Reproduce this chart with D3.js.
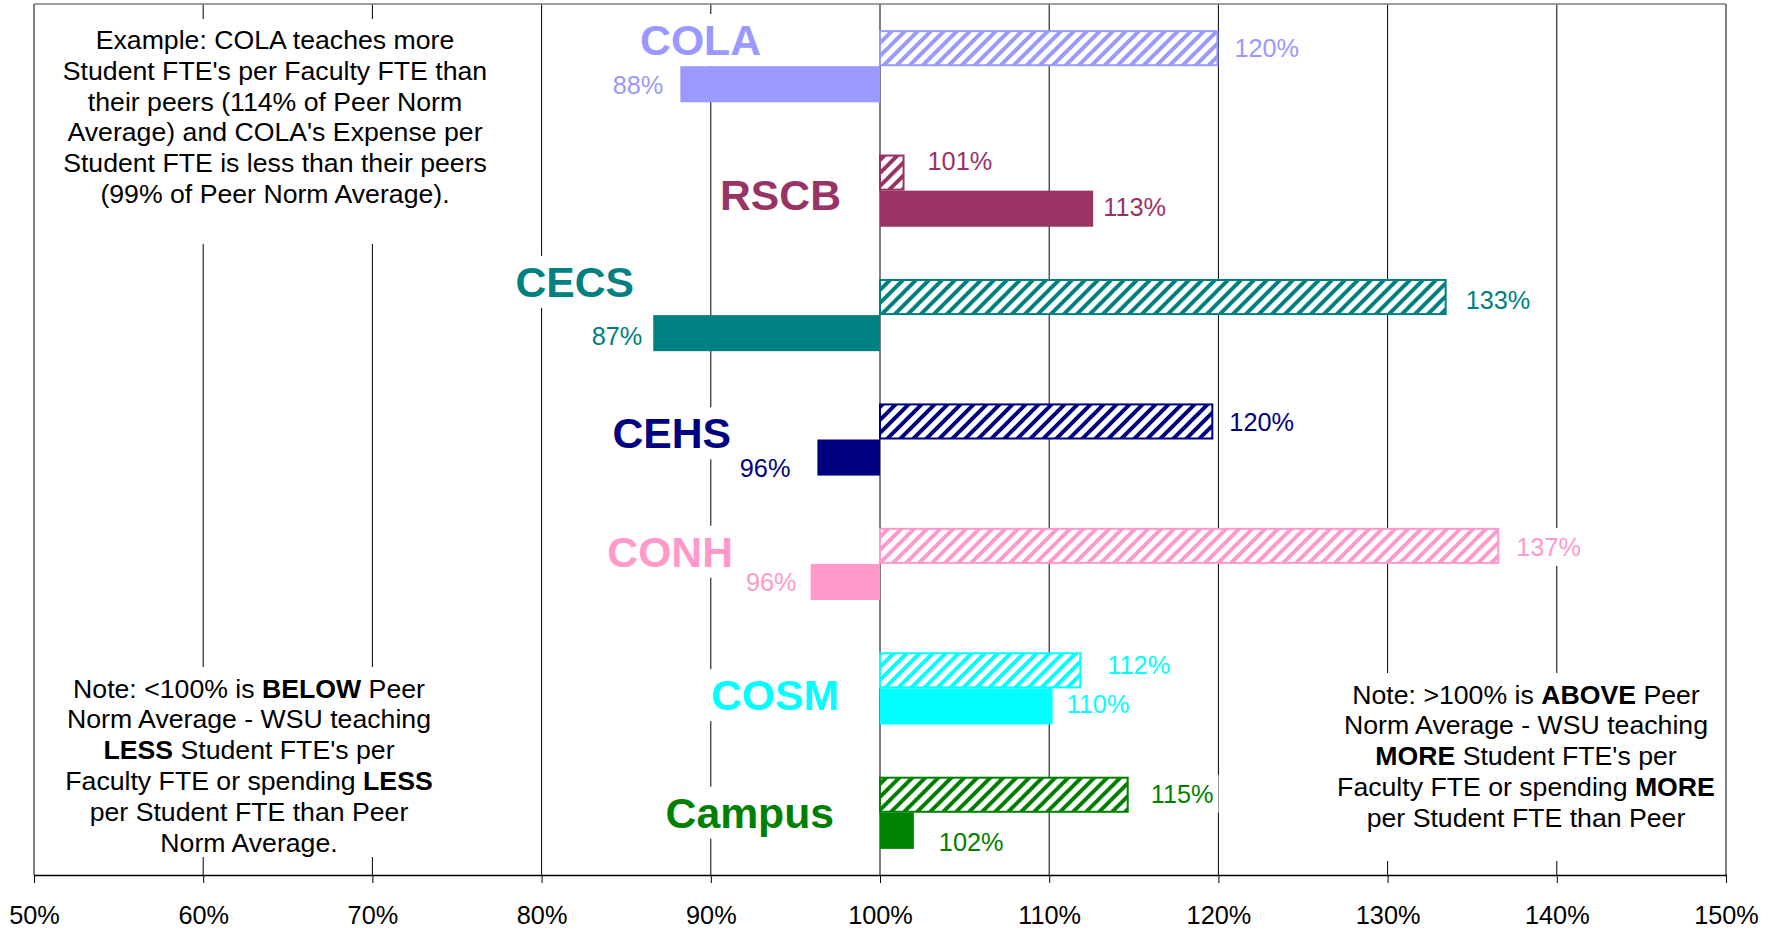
<!DOCTYPE html>
<html>
<head>
<meta charset="utf-8">
<script src="https://cdn.jsdelivr.net/npm/d3@7"></script>
<style>
  body { margin: 0; background: #fff; }
  text { font-family: "Liberation Sans", Arial, sans-serif; }
</style>
</head>
<body>
<script>
// data: % of peer norm average
const categories = ["COLA", "RSCB", "CECS", "CEHS", "CONH", "COSM", "Campus"];
const colors = ["#9999FF", "#993366", "#008080", "#000080", "#FF99CC", "#00FFFF", "#008000"];
const studentsPerFaculty = [120.0, 101.45, 133.49, 119.7, 136.6, 111.9, 114.7]; // hatched
const expensePerStudent = [88.2, 112.6, 86.6, 96.3, 95.9, 110.2, 102.0];       // solid
const tickValues = [50, 60, 70, 80, 90, 100, 110, 120, 130, 140, 150];

// hand placed text boxes (px nudges)
const catLabelPos = [[-119, 51], [-39, 82], [-246, 44], [-149, 71], [-147, 65], [-41, 84], [-46, 77]];
const hatchLabelPos = [[16, 0], [23, -12], [19, 3], [16, 1], [17, 1], [26, -5], [22, -1]];
const solidLabelPos = [[-17, 1], [10, -2], [-11, 3], [-27, 10], [-14, 0], [14, -2], [25, 11]];

const exampleNote = [
  [["Example: COLA teaches more"]],
  [["Student FTE's per Faculty FTE than"]],
  [["their peers (114% of Peer Norm"]],
  [["Average) and COLA's Expense per"]],
  [["Student FTE is less than their peers"]],
  [["(99% of Peer Norm Average)."]]
];
const belowNote = [
  [["Note: <100% is "], ["BELOW", 1], [" Peer"]],
  [["Norm Average - WSU teaching"]],
  [["LESS", 1], [" Student FTE's per"]],
  [["Faculty FTE or spending "], ["LESS", 1]],
  [["per Student FTE than Peer"]],
  [["Norm Average."]]
];
const aboveNote = [
  [["Note: >100% is "], ["ABOVE", 1], [" Peer"]],
  [["Norm Average - WSU teaching"]],
  [["MORE", 1], [" Student FTE's per"]],
  [["Faculty FTE or spending "], ["MORE", 1]],
  [["per Student FTE than Peer"]]
];

let width = 1781, height = 930;
let plotLeft = 34, plotRight = 1726, plotTop = 4, plotBottom = 875;

let svg = d3.select("body").append("svg")
  .attr("width", width).attr("height", height);

let x = d3.scaleLinear().domain([50, 150]).range([plotLeft, plotRight]);
let y = d3.scaleBand().domain(categories).range([plotTop, plotBottom])
  .paddingInner(0.42).paddingOuter(0.21);
let ySub = d3.scaleBand().domain(["hatch", "solid"]).range([0, y.bandwidth()]);
let step = y.step();
let bandTop = d => y(d) - y.paddingOuter() * step;

// hatch patterns
let defs = svg.append("defs");
categories.forEach((c, i) => {
  let p = defs.append("pattern").attr("id", "hatch" + i)
    .attr("patternUnits", "userSpaceOnUse").attr("width", 13).attr("height", 13);
  p.append("rect").attr("width", 13).attr("height", 13).attr("fill", "#fff");
  p.append("path").attr("d", "M-4,4 L4,-4 M0,13 L13,0 M9,17 L17,9")
    .attr("stroke", colors[i]).attr("stroke-width", 4);
});

// gridlines
svg.append("g").selectAll("line").data(tickValues).join("line")
  .attr("x1", d => x(d)).attr("x2", d => x(d))
  .attr("y1", plotTop).attr("y2", plotBottom)
  .attr("stroke", "#000").attr("stroke-width", 1);
svg.append("line").attr("x1", plotLeft).attr("x2", plotRight)
  .attr("y1", plotTop).attr("y2", plotTop)
  .attr("stroke", "#808080").attr("stroke-width", 1.5);

let boxes = svg.append("g");
let bars = svg.append("g");
let labels = svg.append("g");

// note boxes
function note(lines, cx, y0, box) {
  boxes.append("rect").attr("x", box[0]).attr("y", box[1])
    .attr("width", box[2] - box[0]).attr("height", box[3] - box[1]).attr("fill", "#fff");
  let t = labels.append("text").attr("text-anchor", "middle")
    .attr("font-size", 26.67).attr("fill", "#000");
  lines.forEach((segs, j) => {
    segs.forEach((s, k) => {
      let ts = t.append("tspan").text(s[0]).attr("font-weight", s[1] ? "bold" : "normal");
      if (k == 0) ts.attr("x", cx).attr("y", y0 + j * 30.8);
    });
  });
}
note(exampleNote, 275, 49, [52, 19, 500, 244]);
note(belowNote, 249, 697.5, [52, 667, 450, 857]);
note(aboveNote, 1526, 703.5, [1330, 673, 1722, 861]);

// bars
bars.selectAll(".hatch").data(categories).join("rect")
  .attr("x", x(100))
  .attr("y", d => y(d) + ySub("hatch") + 1)
  .attr("width", (d, i) => x(studentsPerFaculty[i]) - x(100) - 1)
  .attr("height", ySub.bandwidth() - 2)
  .attr("fill", (d, i) => "url(#hatch" + i + ")")
  .attr("stroke", (d, i) => colors[i]).attr("stroke-width", 2);

bars.selectAll(".solid").data(categories).join("rect")
  .attr("x", (d, i) => Math.min(x(100), x(expensePerStudent[i])))
  .attr("y", d => y(d) + ySub("solid"))
  .attr("width", (d, i) => Math.abs(x(expensePerStudent[i]) - x(100)))
  .attr("height", ySub.bandwidth())
  .attr("fill", (d, i) => colors[i]);

let fmt = v => d3.format(".0f")(v) + "%";

function boxedText(txt, xx, yy, anchor, size, weight, color, pad) {
  let t = labels.append("text").attr("x", xx).attr("y", yy)
    .attr("text-anchor", anchor).attr("font-size", size)
    .attr("font-weight", weight).attr("fill", color).text(txt);
  let b = t.node().getBBox();
  boxes.append("rect").attr("x", b.x - pad).attr("y", b.y - pad)
    .attr("width", b.width + 2 * pad).attr("height", b.height + 2 * pad)
    .attr("fill", "#fff");
}

// category labels
categories.forEach((c, i) => {
  boxedText(c, x(100) + catLabelPos[i][0], bandTop(c) + catLabelPos[i][1],
    "end", 42.7, "bold", colors[i], 2);
});

// value labels
categories.forEach((c, i) => {
  let v = studentsPerFaculty[i];
  let cy = y(c) + ySub("hatch") + ySub.bandwidth() / 2;
  boxedText(fmt(v), x(v) + hatchLabelPos[i][0], cy + hatchLabelPos[i][1] + 9,
    "start", 25.3, "normal", colors[i], 5);
  let s = expensePerStudent[i];
  let cy2 = y(c) + ySub("solid") + ySub.bandwidth() / 2;
  boxedText(fmt(s), x(s) + solidLabelPos[i][0], cy2 + solidLabelPos[i][1] + 9,
    s < 100 ? "end" : "start", 25.3, "normal", colors[i], 5);
});

// x axis
let axis = svg.append("g").attr("transform", "translate(0," + plotBottom + ")")
  .call(d3.axisBottom(x).tickValues(tickValues).tickFormat(d => d + "%")
    .tickSize(8).tickSizeOuter(0).tickPadding(23));
axis.select(".domain").attr("stroke", "#000").attr("stroke-width", 1.5);
axis.selectAll(".tick line").attr("stroke", "#000");
axis.selectAll(".tick text").attr("font-size", 25.3).attr("fill", "#000")
  .attr("font-family", "'Liberation Sans', Arial, sans-serif");
</script>
</body>
</html>
